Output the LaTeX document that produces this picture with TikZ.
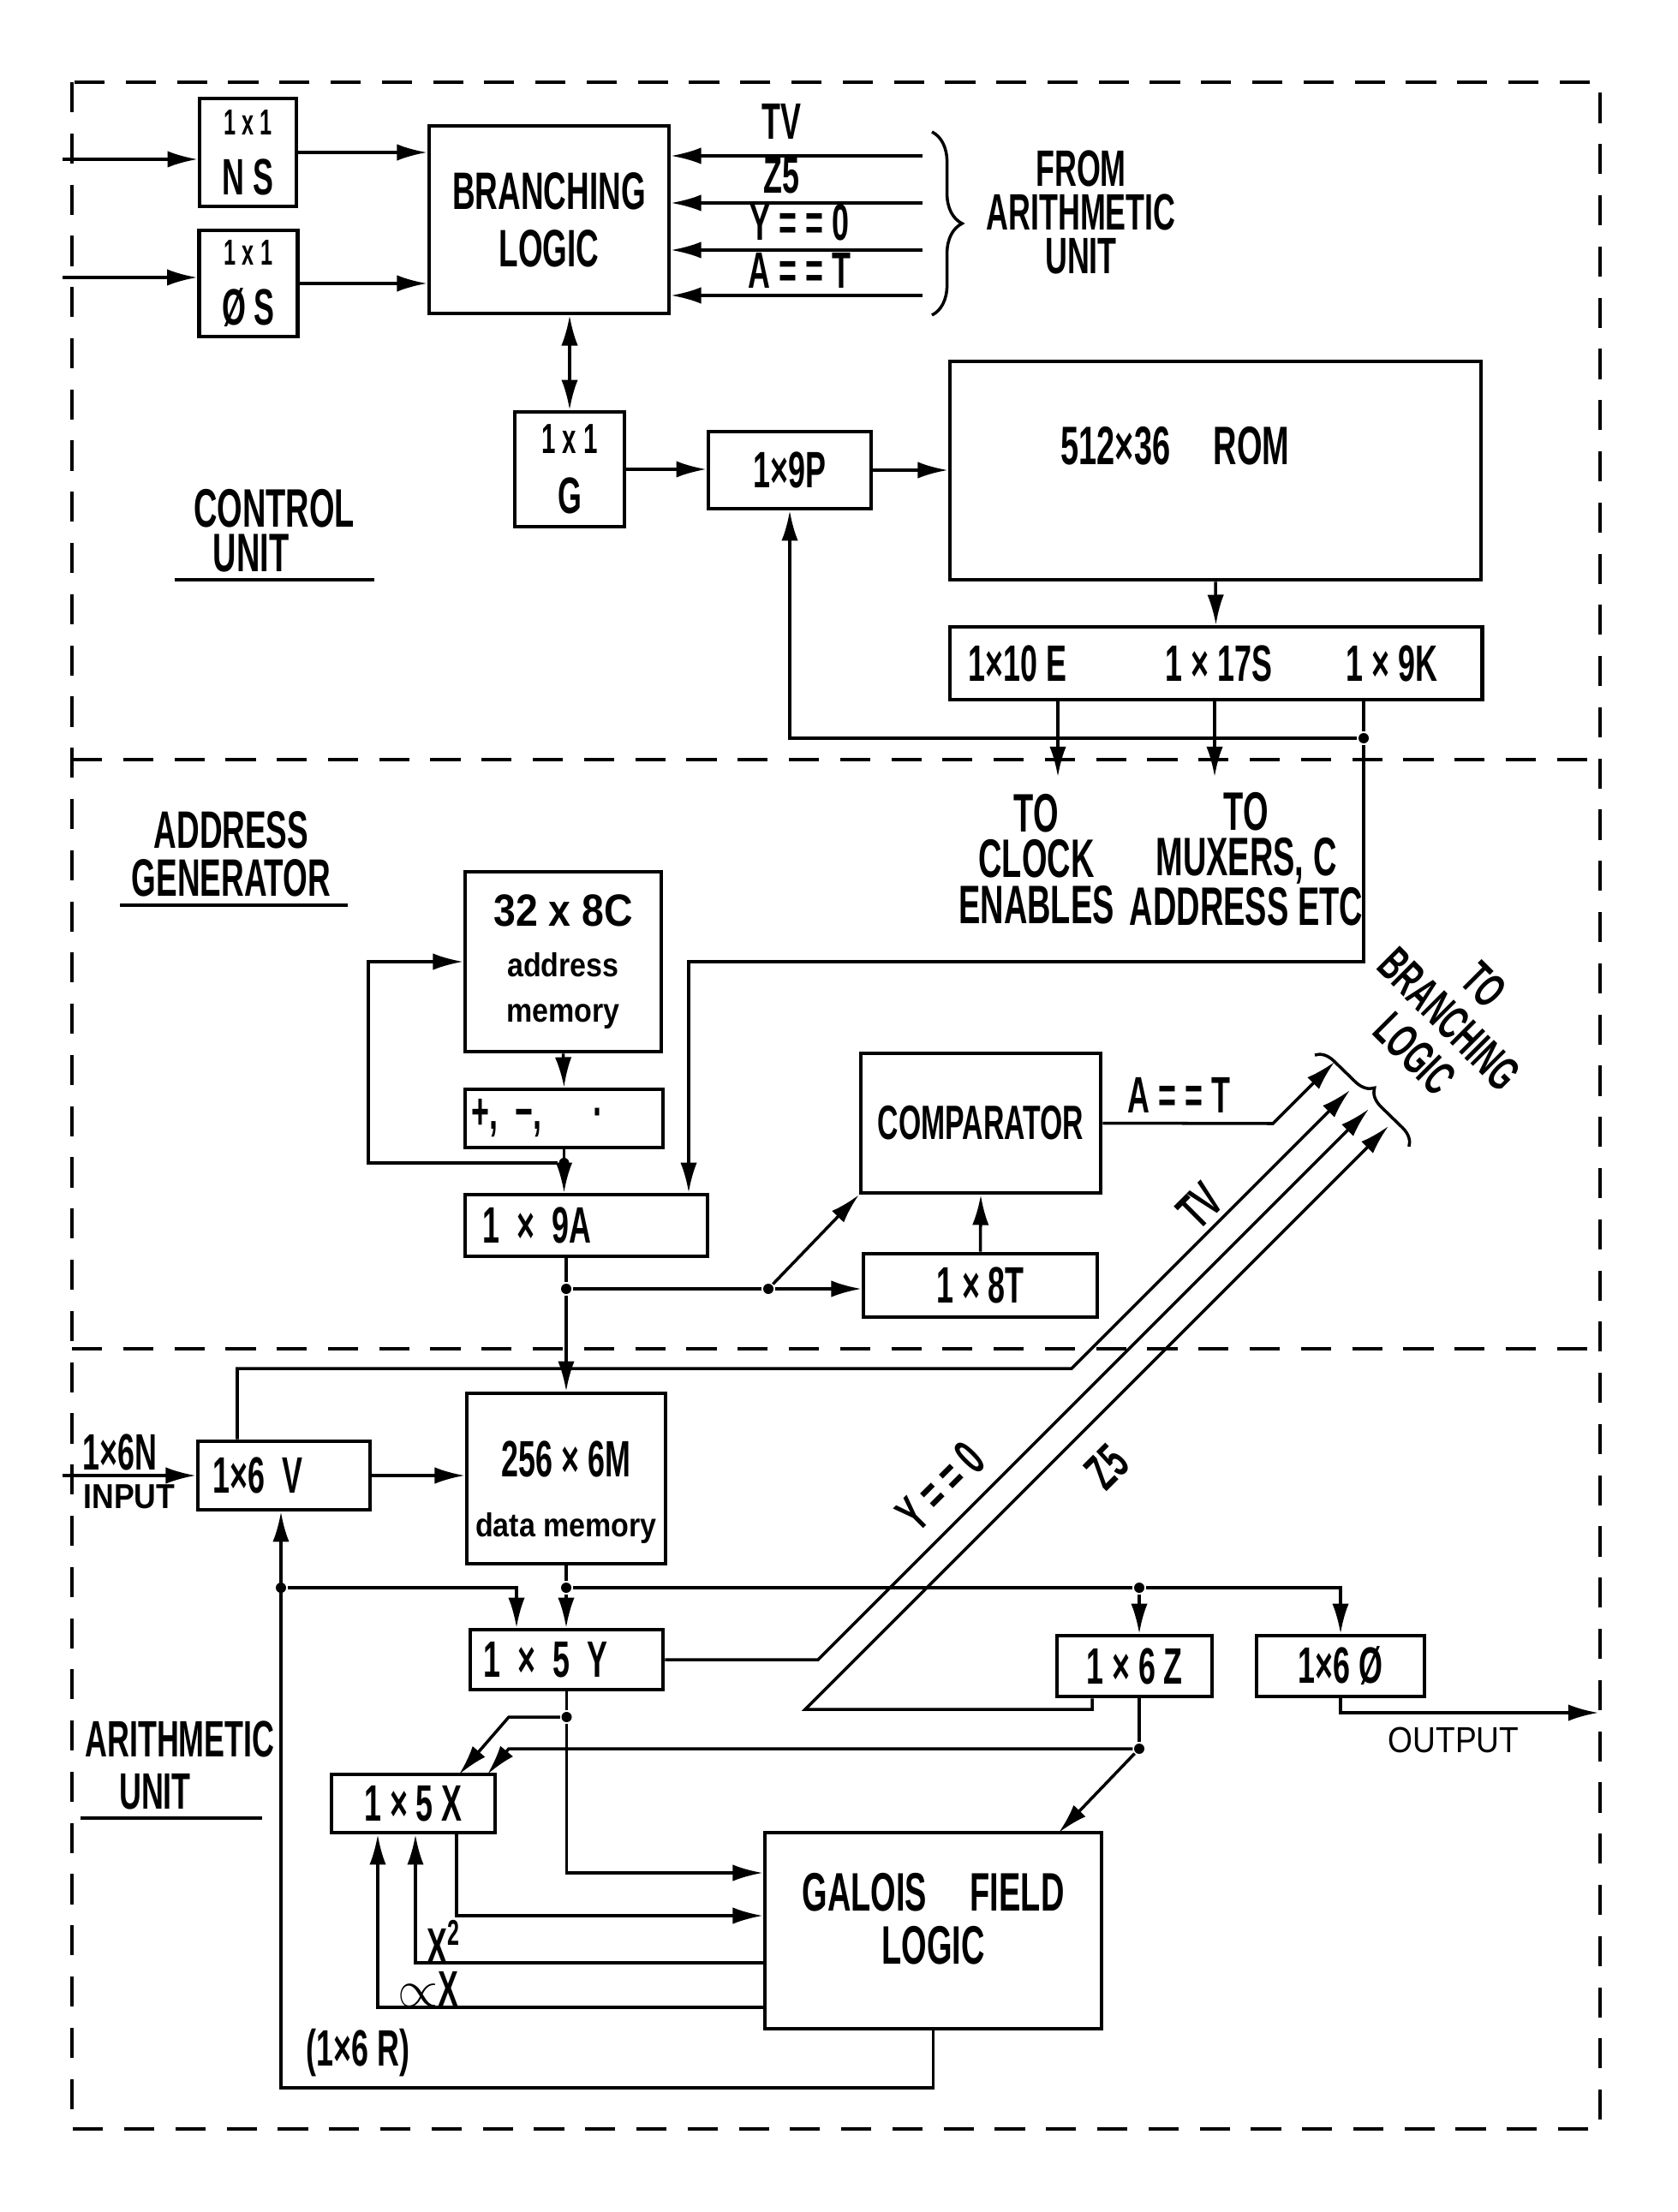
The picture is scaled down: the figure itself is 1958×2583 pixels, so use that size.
\documentclass[tikz,border=0pt]{standalone}
\usepackage{fontspec}
\setmainfont{Liberation Sans}[FakeStretch=0.6, UprightFont=* Bold, BoldFont=* Bold]
\newfontfamily\notefont{Liberation Sans}[FakeStretch=0.88]
\usetikzlibrary{arrows.meta,decorations.pathreplacing}

\newcommand{\lett}{\fontsize{17pt}{20pt}\selectfont}
\tikzstyle{regbox} = [draw, line width=1.3pt, inner sep=0pt, align=center, font=\lett]
\tikzstyle{lettering} = [inner sep=0pt, align=center, font=\lett]
\tikzstyle{jdot} = [circle, fill, inner sep=0pt, minimum size=1.2mm]
\tikzstyle{partition} = [line width=1pt, dash pattern=on 10pt off 7pt]

\begin{document}
\begin{tikzpicture}[x=0.01cm, y=-0.01cm, line width=1pt, >={Latex[length=10pt,width=5.5pt]}]
        \useasboundingbox (0,0) rectangle (1958,2583);

        \draw[partition] (84,96) rectangle (1868,2486);
        \draw[partition] (84,887) -- (1868,887);
        \draw[partition] (84,1575) -- (1868,1575);

        % control unit
        \node[regbox, minimum width=1.13cm, minimum height=1.26cm] (ns) at (289.5,178) {{\fontsize{12pt}{14pt}\selectfont 1 x 1}\\N S};
        \node[regbox, minimum width=1.15cm, minimum height=1.24cm] (os) at (290,331) {{\fontsize{12pt}{14pt}\selectfont 1 x 1}\\Ø S};
        \node[regbox, minimum width=2.8cm, minimum height=2.19cm, font=\fontsize{17.5pt}{19pt}\selectfont] (br) at (641,256.5) {BRANCHING\\LOGIC};
        \node[regbox, minimum width=1.28cm, minimum height=1.34cm] (g) at (665,548) {{\fontsize{14pt}{16pt}\selectfont 1 x 1}\\G};
        \node[regbox, minimum width=1.9cm, minimum height=0.9cm] (p) at (922,549) {1×9P};
        \node[regbox, minimum width=6.2cm, minimum height=2.55cm] (rom) at (1419,549.5) {};
        \node[lettering, font=\fontsize{18pt}{20pt}\selectfont] (romlbl) at (1372,521) {512×36\hspace{0.8em}ROM};
        \node[regbox, minimum width=6.21cm, minimum height=0.85cm] (reg) at (1419.5,774.5) {};
        \node[lettering] (rege) at (1188,775) {1×10 E};
        \node[lettering] (regs) at (1423,775) {1 × 17S};
        \node[lettering] (regk) at (1625,775) {1 × 9K};

        \coordinate (nsin) at (73,186);
        \coordinate (osin) at (73,324);
        \draw[->] (nsin) -- (nsin -| ns.west);
        \draw[->] (osin) -- (osin -| os.west);
        \draw[->] (ns.east) -- (ns.east -| br.west);
        \draw[->] (os.east) -- (os.east -| br.west);

        \coordinate (tvin) at (1077,182);
        \coordinate (z5in) at (1077,237);
        \coordinate (y0in) at (1077,292);
        \coordinate (atin) at (1077,345);
        \draw[->] (tvin) -- node[lettering, above=5pt, pos=0.56] {TV} (tvin -| br.east);
        \draw[->] (z5in) -- node[lettering, above=2.5pt, pos=0.56] {Z5} (z5in -| br.east);
        \draw[->] (y0in) -- node[lettering, above=2.5pt, pos=0.49] {Y\,=\,=\,0} (y0in -| br.east);
        \draw[->] (atin) -- node[lettering, above=2pt, pos=0.49] {A\,=\,=\,T} (atin -| br.east);
        \draw[decorate, decoration={brace, amplitude=10pt}] (1088,154) -- (1088,368);
        \node[lettering, font=\fontsize{17pt}{14.5pt}\selectfont] (fromau) at (1262,248) {FROM\\ARITHMETIC\\UNIT};

        \draw[<->] (g.north |- br.south) -- (g.north);
        \draw[->] (g.east) -- (g.east -| p.west);
        \draw[->] (p.east) -- (p.east -| rom.west);
        \draw[->] (rom.south) -- (reg.north);

        \coordinate (eport) at (1235,817);
        \coordinate (sport) at (1418,817);
        \coordinate (kport) at (1592,817);
        \coordinate (etip) at (1235,907);
        \coordinate (stip) at (1418,907);
        \draw[->] (eport) -- (etip);
        \draw[->] (sport) -- (stip);
        \node[jdot] (kdot) at (1592,862) {};
        \draw (kport) -- (kdot);
        \draw[->] (kdot) -| (p.south);
        \node[lettering, font=\fontsize{18pt}{15.2pt}\selectfont] (clklbl) at (1210,1003) {TO\\CLOCK\\ENABLES};
        \node[lettering, font=\fontsize{18pt}{15.2pt}\selectfont] (muxlbl) at (1455,1003) {TO\\MUXERS, C\\ADDRESS\,ETC};

        \node[lettering, font=\fontsize{18pt}{20pt}\selectfont] (ctrllbl) at (320,594) {CONTROL};
        \node[lettering, font=\fontsize{18pt}{20pt}\selectfont] (ctrllbl2) at (293,646) {UNIT};
        \draw[line width=1.3pt] (204,677) -- (437,677);

        % address generator
        \node[lettering, font=\fontsize{17.5pt}{16pt}\selectfont] (addrlbl) at (270,997) {ADDRESS\\GENERATOR};
        \draw[line width=1.3pt] (140,1057) -- (406,1057);
        \node[regbox, minimum width=2.29cm, minimum height=2.1cm, font=\notefont\bfseries\fontsize{11pt}{15pt}\selectfont] (amem) at (657.5,1123) {{\fontsize{15pt}{17pt}\selectfont 32 x 8C}\\[2pt]address\\memory};
        \node[regbox, minimum width=2.31cm, minimum height=0.68cm, text width=2.15cm, align=left] (ops) at (658.5,1306) {+,\ −,\quad ·};
        \node[regbox, minimum width=2.83cm, minimum height=0.72cm, text width=2.41cm, align=left] (aaddr) at (684.5,1431) {1 × 9A};
        \node[regbox, minimum width=2.8cm, minimum height=1.63cm, font=\fontsize{16pt}{18pt}\selectfont] (comp) at (1145,1311.5) {COMPARATOR};
        \node[regbox, minimum width=2.73cm, minimum height=0.74cm] (treg) at (1144.5,1501) {1 × 8T};

        \coordinate (kturn) at (804,1123);
        \draw[->] (kdot) |- (kturn) -- (kturn |- aaddr.north);
        \draw[->] (amem.south) -- (ops.north);
        \draw[->] (ops.south) -- (ops.south |- aaddr.north);
        \node[jdot] (loopdot) at (658.5,1358) {};
        \coordinate (loopcorner) at (430,1358);
        \draw[->] (loopdot) -- (loopcorner) |- (amem.west);

        \node[jdot] (adot) at (661,1505) {};
        \node[jdot] (cdot) at (897,1505) {};
        \draw (adot |- aaddr.south) -- (adot);
        \draw (adot) -- (cdot);
        \draw[->] (cdot) -- (cdot -| treg.west);
        \draw[->] (cdot) -- (comp.south west);
        \draw[->] (treg.north) -- (comp.south);

        \coordinate (atbend) at (1486,1312);
        \coordinate (attip) at (1558,1240);
        \draw[->] (comp.east) -- node[lettering, above=3pt, pos=0.45] {A\,=\,=\,T} (atbend) -- (attip);
        \draw[decorate, decoration={brace, amplitude=6pt}] (1535,1232) -- (1645,1339);
        \node[lettering, rotate=-45, font=\fontsize{16pt}{16.2pt}\selectfont] (tobrlbl) at (1692,1190) {TO\\BRANCHING\\LOGIC};

        % arithmetic unit
        \node[regbox, minimum width=2.01cm, minimum height=0.8cm, text width=1.65cm, align=left] (vreg) at (331.5,1723) {1×6 V};
        \node[regbox, minimum width=2.32cm, minimum height=1.99cm] (dmem) at (661,1726.5) {\rule{0pt}{21pt}256 × 6M\\{\notefont\bfseries\fontsize{11pt}{12pt}\selectfont data memory}};
        \node[regbox, minimum width=2.25cm, minimum height=0.7cm, text width=1.93cm, align=left] (yreg) at (661.5,1938) {1 × 5 Y};
        \node[regbox, minimum width=1.81cm, minimum height=0.71cm] (zreg) at (1324.5,1945.5) {1 × 6 Z};
        \node[regbox, minimum width=1.96cm, minimum height=0.71cm] (oreg) at (1565,1945.5) {1×6 Ø};
        \node[regbox, minimum width=1.91cm, minimum height=0.68cm] (xreg) at (482.5,2106) {1 × 5 X};
        \node[regbox, minimum width=3.93cm, minimum height=2.29cm, font=\fontsize{18pt}{17.4pt}\selectfont] (gf) at (1089.5,2254.5) {GALOIS\hspace{0.8em}FIELD\\LOGIC\rule[-8pt]{0pt}{8pt}};

        \coordinate (vin) at (73,1723);
        \draw[->] (vin) -- (vreg.west);
        \node[lettering, font=\fontsize{17pt}{19pt}\selectfont] (nlbl) at (140,1696) {1×6N};
        \node[lettering, font=\notefont\bfseries\fontsize{11.5pt}{13pt}\selectfont] (inlbl) at (151,1748) {INPUT};
        \draw[->] (vreg.east) -- (vreg.east -| dmem.west);
        \draw[->] (adot) -- (adot |- dmem.north);

        \coordinate (tvcorner) at (277,1598);
        \coordinate (tvbend) at (1251,1598);
        \coordinate (tvtip) at (1576,1273);
        \draw[->] (tvcorner |- vreg.north) -- (tvcorner) -- (tvbend) -- (tvtip);
        \node[lettering, rotate=45] (tvlbl) at (1401,1408) {TV};

        \node[jdot] (mdot) at (661,1854) {};
        \node[jdot] (zdot) at (1330,1854) {};
        \draw (dmem.south) -- (mdot);
        \draw[->] (mdot) -- (mdot |- yreg.north);
        \draw (mdot) -- (zdot);
        \draw[->] (zdot) -- (zdot |- zreg.north);
        \draw[->] (zdot) -| (oreg.north);

        \node[jdot] (rdot) at (328,1854) {};
        \coordinate (rcorner) at (328,2438);
        \coordinate (yinl) at (603,1854);
        \draw[->] (gf.south) |- (rcorner) -- (rcorner |- vreg.south);
        \draw[->] (rdot) -- (yinl) -- (yinl |- yreg.north);
        \node[lettering] (rlbl) at (418,2397) {(1×6 R)};

        \coordinate (ybend) at (955,1938);
        \coordinate (ytip) at (1598,1295);
        \draw[->] (yreg.east) -- (ybend) -- (ytip);
        \node[lettering, rotate=45] (ylbl) at (1098,1736) {Y\,=\,=\,0};

        \coordinate (zcorner) at (1275,1996);
        \coordinate (zbend) at (940,1996);
        \coordinate (ztip) at (1621,1315);
        \draw[->] (zcorner |- zreg.south) -- (zcorner) -- (zbend) -- (ztip);
        \node[lettering, rotate=45] (zlbl) at (1292,1713) {Z5};

        \coordinate (outtip) at (1866,2000);
        \draw[->] (oreg.south) |- (outtip);
        \node[lettering, font=\notefont\fontsize{12pt}{14pt}\selectfont] (outlbl) at (1697,2032) {OUTPUT};

        \node[jdot] (ydot) at (661.5,2005) {};
        \coordinate (yturn) at (661.5,2187);
        \coordinate (ybend2) at (594,2005);
        \coordinate (xinl) at (536,2072);
        \draw (yreg.south) -- (ydot);
        \draw[->] (ydot) -- (yturn) -- (yturn -| gf.west);
        \draw[->] (ydot) -- (ybend2) -- (xinl);

        \node[jdot] (zdot2) at (1330,2042) {};
        \coordinate (zbend2) at (594,2042);
        \coordinate (xinr) at (569,2072);
        \coordinate (gfin) at (1236,2140);
        \draw (zdot2 |- zreg.south) -- (zdot2);
        \draw[->] (zdot2) -- (zbend2) -- (xinr);
        \draw[->] (zdot2) -- (gfin);

        \coordinate (xout) at (533,2237);
        \coordinate (x2turn) at (485,2292);
        \coordinate (axturn) at (441,2344);
        \draw[->] (xout |- xreg.south) -- (xout) -- (xout -| gf.west);
        \draw[->] (x2turn -| gf.west) -- (x2turn) -- (x2turn |- xreg.south);
        \draw[->] (axturn -| gf.west) -- (axturn) -- (axturn |- xreg.south);
        \node[lettering] (x2lbl) at (518,2268) {X\textsuperscript{2}};
        \node[lettering] (axlbl) at (500,2323) {$\propto$X};

        \node[lettering] (arlbl) at (210,2031) {ARITHMETIC};
        \node[lettering] (arlbl2) at (181,2092) {UNIT};
        \draw[line width=1.3pt] (94,2123) -- (306,2123);
    \end{tikzpicture}
\end{document}
